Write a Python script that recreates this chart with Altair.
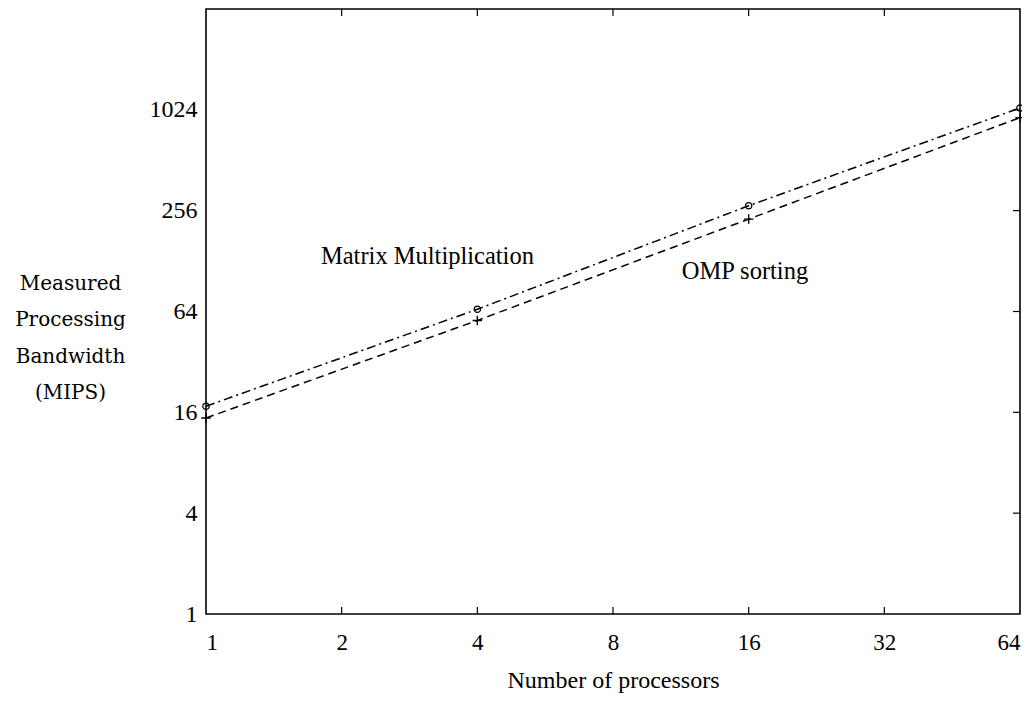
import altair as alt
import pandas as pd

# ---- data ----
procs = [1, 4, 16, 64]
matrix_mult = [17.4, 66, 274, 1050]
omp_sorting = [14.8, 56.6, 228, 920]

x_ticks = [1, 2, 4, 8, 16, 32, 64]
y_ticks = [1, 4, 16, 64, 256, 1024]
x_inner_ticks = [2, 4, 8, 16, 32]
y_inner_ticks = [4, 16, 64, 256, 1024]

labels = ["Matrix Multiplication", "OMP sorting"]
label_x = [3.1, 15.7]
label_y = [135, 110]

mm_df = pd.DataFrame({"procs": procs, "value": matrix_mult})
omp_df = pd.DataFrame({"procs": procs, "value": omp_sorting})
lab_df = pd.DataFrame({"procs": label_x, "value": label_y, "text": labels})
xt_df = pd.DataFrame({"procs": x_inner_ticks})
yt_df = pd.DataFrame({"value": y_inner_ticks})

W, H = 814, 605
SERIF = "Liberation Serif"

xs = alt.Scale(type="log", base=2, domain=[1, 64], nice=False)
ys = alt.Scale(type="log", base=4, domain=[1, 4096], nice=False)

xaxis = alt.Axis(values=x_ticks, format="d", ticks=False, domain=False, grid=False,
                 labelFont=SERIF, labelFontSize=23, labelColor="black", labelPadding=17,
                 labelFlush=True, labelOverlap=False,
                 titleFont=SERIF, titleFontSize=24, titleFontWeight="normal",
                 titleColor="black", titlePadding=14)
yaxis = alt.Axis(values=y_ticks, format="d", ticks=False, domain=False, grid=False,
                 labelFont=SERIF, labelFontSize=24, labelColor="black", labelPadding=9,
                 labelFlush=False, labelOverlap=False,
                 titleFont="DejaVu Serif", titleFontSize=20, titleFontWeight="normal",
                 titleColor="black", titleAngle=0, titleAlign="center",
                 titleBaseline="middle", titleX=-136, titleY=274, titleLineHeight=36.5)

X = alt.X("procs:Q", scale=xs, axis=xaxis, title="Number of processors")
Y = alt.Y("value:Q", scale=ys, axis=yaxis,
          title=["Measured", "Processing", "Bandwidth", "(MIPS)"])

mm_line = alt.Chart(mm_df).mark_line(color="black", strokeWidth=1.5,
                                     strokeDash=[9, 4, 2, 4]).encode(x=X, y=Y)
omp_line = alt.Chart(omp_df).mark_line(color="black", strokeWidth=1.5,
                                       strokeDash=[8, 5]).encode(x=X, y=Y)
mm_pts = alt.Chart(mm_df).mark_point(shape="circle", filled=False, color="black",
                                     size=40, strokeWidth=1.3, opacity=1).encode(x=X, y=Y)
omp_pts = alt.Chart(omp_df).mark_point(shape="M-1,0L1,0M0,-1L0,1", filled=False,
                                       color="black", size=90, strokeWidth=1.4,
                                       opacity=1).encode(x=X, y=Y)
texts = alt.Chart(lab_df).mark_text(font=SERIF, fontSize=24.5, color="black",
                                    align="center", baseline="middle").encode(
    x=X, y=Y, text="text:N")

tick_bottom = alt.Chart(xt_df).mark_rule(color="black", strokeWidth=1.2).encode(
    x=X, y=alt.value(H), y2=alt.value(H - 7))
tick_top = alt.Chart(xt_df).mark_rule(color="black", strokeWidth=1.2).encode(
    x=X, y=alt.value(0), y2=alt.value(7))
tick_right = alt.Chart(yt_df).mark_rule(color="black", strokeWidth=1.2).encode(
    y=Y, x=alt.value(W), x2=alt.value(W - 7))

chart = alt.layer(
    mm_line, omp_line, mm_pts, omp_pts, texts, tick_bottom, tick_top, tick_right
).properties(
    width=W, height=H,
    autosize=alt.AutoSizeParams(type="none"),
    padding={"left": 198, "top": 1, "right": 2, "bottom": 80},
    background="white",
).configure_view(stroke="black", strokeWidth=1.6)

chart.save("out.html", embed_options={"renderer": "svg", "actions": False})
